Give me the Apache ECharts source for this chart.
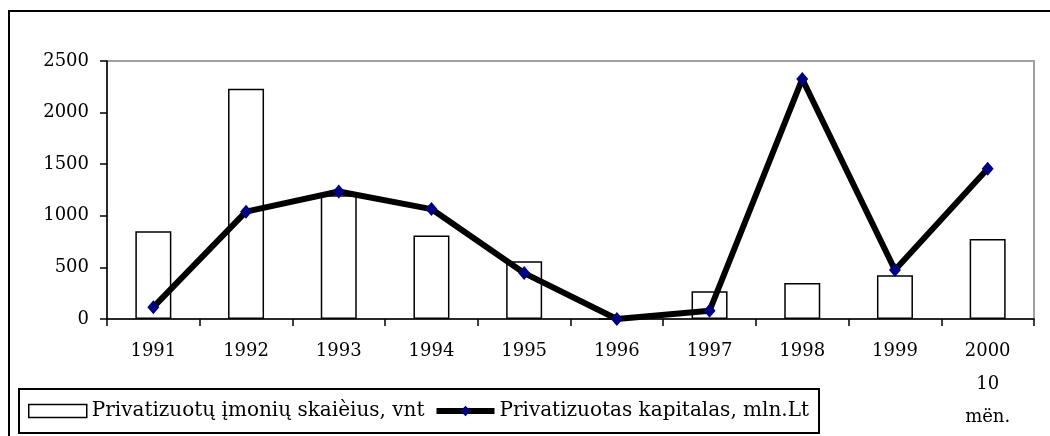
<!DOCTYPE html>
<html>
<head>
<meta charset="utf-8">
<title>Privatizacija</title>
<script src="https://cdn.jsdelivr.net/npm/echarts@6/dist/echarts.min.js"></script>
<style>
    html, body { margin: 0; padding: 0; background: #fff; }
    #chart { width: 1050px; height: 436px; }
</style>
</head>
<body>
<div id="chart"></div>
<script>
/*数据*/
var years = ['1991', '1992', '1993', '1994', '1995', '1996', '1997', '1998', '1999', '2000\n10\nmën.'];
var imoniuSkaicius = [850, 2230, 1200, 810, 560, 0, 270, 350, 425, 775];
var kapitalas = [115, 1040, 1235, 1065, 445, 0, 80, 2325, 475, 1455];
var yTicks = [0, 500, 1000, 1500, 2000, 2500];
var seriesNames = ['Privatizuotų įmonių skaièius, vnt', 'Privatizuotas kapitalas, mln.Lt'];

var serif = '"DejaVu Serif", "Liberation Serif", serif';

var box = document.getElementById('chart');
var myChart = echarts.init(box, null, { renderer: 'canvas' });

var options = {
    animation: false,
    backgroundColor: '#fff',
    textStyle: { fontFamily: serif, color: '#000' },
    graphic: [
        {
            type: 'rect',
            shape: { x: 9, y: 11, width: 1100, height: 500 },
            style: { fill: 'none', stroke: '#000', lineWidth: 2 },
            z: 0
        }
    ],
    legend: {
        left: 19,
        top: 389,
        orient: 'horizontal',
        padding: [12, 10, 12, 9],
        itemGap: 9,
        itemWidth: 58,
        itemHeight: 13,
        borderColor: '#000',
        borderWidth: 2,
        borderRadius: 0,
        textStyle: { fontFamily: serif, fontSize: 20, color: '#000' },
        data: [
            { name: seriesNames[0], icon: 'rect', itemStyle: { color: '#fff', borderColor: '#000', borderWidth: 1.5 } },
            { name: seriesNames[1], lineStyle: { color: '#000', width: 6 }, itemStyle: { color: '#000080' } }
        ]
    },
    grid: {
        left: 107,
        right: 16,
        top: 61,
        bottom: 117,
        containLabel: false,
        show: true,
        borderColor: '#a0a0a0',
        borderWidth: 2,
        backgroundColor: 'transparent'
    },
    xAxis: [
        {
            type: 'category',
            data: years,
            boundaryGap: true,
            axisLine: { lineStyle: { color: '#000', width: 1.5 } },
            axisTick: { show: true, length: 7, inside: false, lineStyle: { color: '#000', width: 1.5 } },
            axisLabel: {
                interval: 0,
                margin: 16,
                fontFamily: serif,
                fontSize: 18,
                lineHeight: 33,
                color: '#000',
                align: 'center'
            },
            splitLine: { show: false }
        }
    ],
    yAxis: [
        {
            type: 'value',
            min: yTicks[0],
            max: yTicks[yTicks.length - 1],
            interval: yTicks[1] - yTicks[0],
            axisLine: { show: true, lineStyle: { color: '#000', width: 1.5 } },
            axisTick: { show: true, length: 7, inside: false, lineStyle: { color: '#000', width: 1.5 } },
            axisLabel: {
                margin: 18,
                fontFamily: serif,
                fontSize: 18,
                color: '#000',
                formatter: function (v) { return String(v); }
            },
            splitLine: { show: false }
        }
    ],
    series: [
        {
            name: seriesNames[0],
            type: 'bar',
            barWidth: 36,
            data: imoniuSkaicius,
            itemStyle: { color: '#fff', borderColor: '#000', borderWidth: 1.5 },
            z: 2
        },
        {
            name: seriesNames[1],
            type: 'line',
            data: kapitalas,
            symbol: 'diamond',
            symbolSize: [12, 14],
            showSymbol: true,
            lineStyle: { color: '#000', width: 6 },
            itemStyle: { color: '#000080', borderWidth: 0 },
            z: 3
        }
    ]
};

myChart.setOption(options);
</script>
</body>
</html>
